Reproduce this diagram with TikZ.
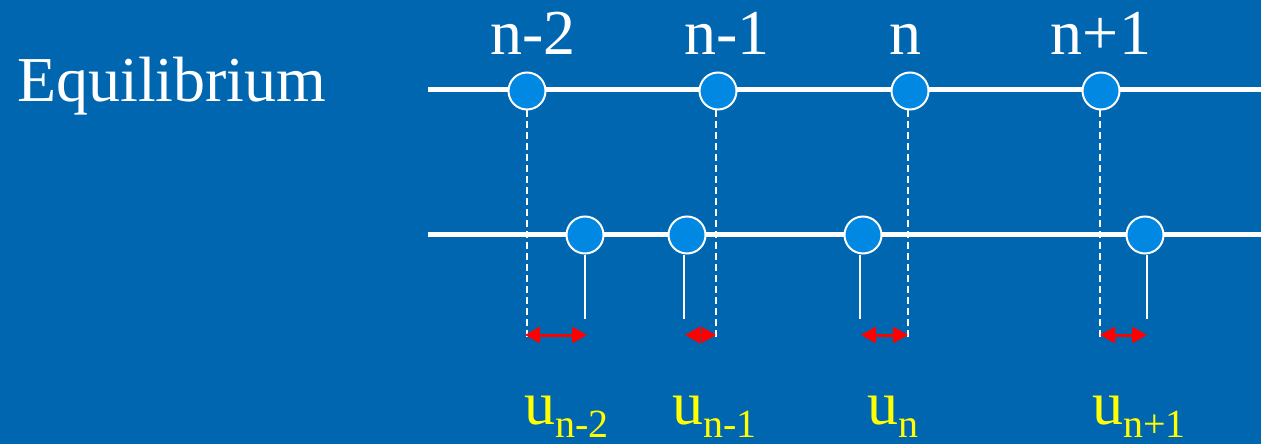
\documentclass[tikz,border=0pt]{standalone}
\usepackage{fontspec}
\setmainfont{Liberation Serif}
\newfontfamily\tnr{Liberation Serif}
\usetikzlibrary{arrows.meta}
\definecolor{bgblue}{RGB}{0,102,176}
\definecolor{ballblue}{RGB}{0,136,227}
\definecolor{lblyellow}{RGB}{255,255,0}
\definecolor{arrred}{RGB}{255,0,0}
\begin{document}
\begin{tikzpicture}[x=1pt,y=1pt,
  ball/.style={circle,minimum size=37pt,inner sep=0pt,draw=white,line width=2pt,fill=ballblue},
  chain/.style={draw=white,line width=5pt},
  guide/.style={draw=white,line width=1.5pt,dash pattern=on 7pt off 4pt},
  stem/.style={draw=white,line width=1.5pt},
  disp/.style={draw=arrred,line width=3pt,{Triangle[length=15pt,width=16pt]}-{Triangle[length=15pt,width=16pt]}},
  toplbl/.style={text=white,inner sep=0pt,anchor=base,font=\tnr\fontsize{64}{64}\selectfont},
  ulbl/.style={text=lblyellow,inner sep=0pt,anchor=base west,font=\tnr}
]
\fill[bgblue] (0,0) rectangle (1261,-444);
\useasboundingbox (0,0) rectangle (1261,-444);

% chains
\coordinate (l1) at (428,-89);
\coordinate (r1) at (1261,-89);
\coordinate (l2) at (428,-234);
\coordinate (r2) at (1261,-234);
\draw[chain] (l1) -- (r1);
\draw[chain] (l2) -- (r2);

% equilibrium balls
\node[ball] (t1) at (527,-91) {};
\node[ball] (t2) at (718,-91) {};
\node[ball] (t3) at (910,-91) {};
\node[ball] (t4) at (1101,-91) {};

% displaced balls
\node[ball] (b1) at (585,-235) {};
\node[ball] (b2) at (687,-235) {};
\node[ball] (b3) at (863,-235) {};
\node[ball] (b4) at (1145,-235) {};

% guide starts and ends
\coordinate (g1) at (527,-110);
\coordinate (g2) at (716,-110);
\coordinate (g3) at (908,-110);
\coordinate (g4) at (1100,-110);
\coordinate (d1) at (527,-337);
\coordinate (d2) at (716,-337);
\coordinate (d3) at (908,-337);
\coordinate (d4) at (1100,-337);
\draw[guide] (g1) -- (d1);
\draw[guide] (g2) -- (d2);
\draw[guide] (g3) -- (d3);
\draw[guide] (g4) -- (d4);

% stems
\coordinate (h1) at (585,-255);
\coordinate (h2) at (684,-255);
\coordinate (h3) at (860,-255);
\coordinate (h4) at (1147,-255);
\coordinate (s1) at (585,-319);
\coordinate (s2) at (684,-319);
\coordinate (s3) at (860,-319);
\coordinate (s4) at (1147,-319);
\draw[stem] (h1) -- (s1);
\draw[stem] (h2) -- (s2);
\draw[stem] (h3) -- (s3);
\draw[stem] (h4) -- (s4);

% displacement arrows
\coordinate (a1l) at (525,-335);
\coordinate (a1r) at (587,-335);
\coordinate (a2l) at (685,-335);
\coordinate (a2r) at (716,-335);
\coordinate (a3l) at (861,-335);
\coordinate (a3r) at (908,-335);
\coordinate (a4l) at (1100,-335);
\coordinate (a4r) at (1147,-335);
\draw[disp] (a1l) -- (a1r);
\draw[disp] (a2l) -- (a2r);
\draw[disp] (a3l) -- (a3r);
\draw[disp] (a4l) -- (a4r);

% labels
\node[toplbl,anchor=base west] (eq) at (17,-102) {Equilibrium};
\node[toplbl] (n1) at (533,-55) {n-2};
\node[toplbl] (n2) at (727,-55) {n-1};
\node[toplbl] (n3) at (905,-55) {n};
\node[toplbl] (n4) at (1101,-55) {n+1};

\node[ulbl] (u1) at (524,-424) {\fontsize{62}{62}\selectfont u\raisebox{-13pt}{\fontsize{40}{40}\selectfont n-2}};
\node[ulbl] (u2) at (672,-424) {\fontsize{62}{62}\selectfont u\raisebox{-13pt}{\fontsize{40}{40}\selectfont n-1}};
\node[ulbl] (u3) at (867,-424) {\fontsize{62}{62}\selectfont u\raisebox{-13pt}{\fontsize{40}{40}\selectfont n}};
\node[ulbl] (u4) at (1092,-424) {\fontsize{62}{62}\selectfont u\raisebox{-13pt}{\fontsize{40}{40}\selectfont n+1}};
\end{tikzpicture}
\end{document}
